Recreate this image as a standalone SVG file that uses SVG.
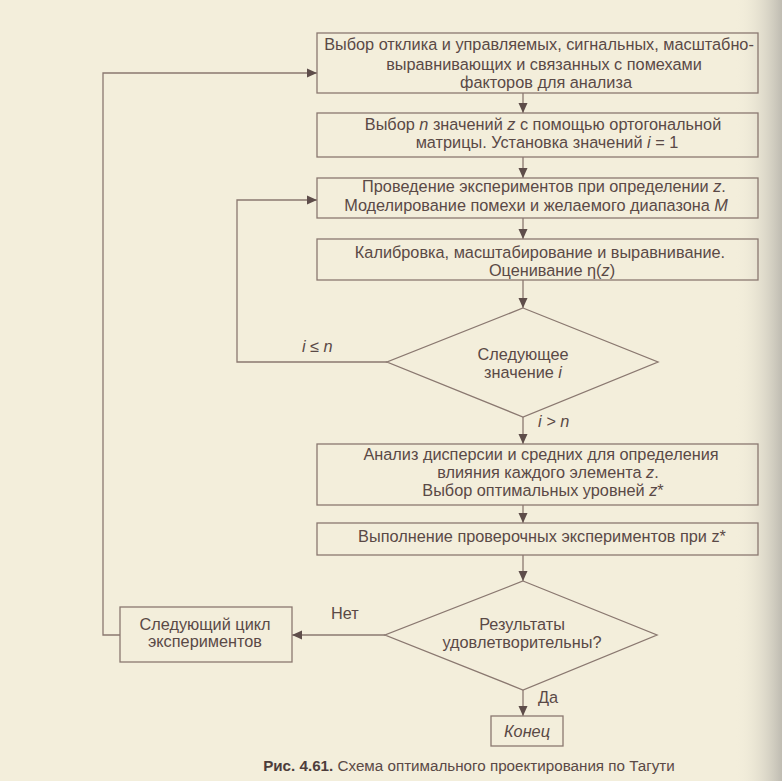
<svg xmlns="http://www.w3.org/2000/svg" width="782" height="781" viewBox="0 0 782 781">
<defs>
<style>
.bx{fill:none;stroke:#8a7870;stroke-width:1.3}
.ln{fill:none;stroke:#8a7870;stroke-width:1.3}
text{font-family:"Liberation Sans",Arial,sans-serif;font-size:16.3px;fill:#5a4946}
.m{text-anchor:middle}
.i{font-style:italic}
.cap{font-size:15.2px}
.b{font-weight:bold;fill:#4d3d3b}
</style>
<marker id="ah" viewBox="0 0 10 10" refX="10" refY="5" markerWidth="10" markerHeight="10" markerUnits="userSpaceOnUse" orient="auto">
<path d="M0,0.5 L10,5 L0,9.5 Z" fill="#5e4d4a"/>
</marker>
<linearGradient id="shade" x1="0" y1="0" x2="1" y2="0">
<stop offset="0" stop-color="#f3eedb" stop-opacity="0"/>
<stop offset="1" stop-color="#b9b6ad" stop-opacity="0.9"/>
</linearGradient>
</defs>
<rect x="0" y="0" width="782" height="781" fill="#f3eedb"/>
<rect x="735" y="0" width="47" height="781" fill="url(#shade)"/>

<g id="connectors">
<line class="ln" x1="523" y1="93" x2="523" y2="113" marker-end="url(#ah)"/>
<line class="ln" x1="523" y1="157" x2="523" y2="178" marker-end="url(#ah)"/>
<line class="ln" x1="523" y1="218" x2="523" y2="239" marker-end="url(#ah)"/>
<line class="ln" x1="523" y1="280" x2="523" y2="308" marker-end="url(#ah)"/>
<line class="ln" x1="523" y1="417" x2="523" y2="444" marker-end="url(#ah)"/>
<line class="ln" x1="523" y1="505" x2="523" y2="523" marker-end="url(#ah)"/>
<line class="ln" x1="523" y1="555" x2="523" y2="581" marker-end="url(#ah)"/>
<line class="ln" x1="523" y1="690" x2="523" y2="716" marker-end="url(#ah)"/>
<polyline class="ln" points="387,362 237,362 237,200 317,200" marker-end="url(#ah)"/>
<line class="ln" x1="385" y1="635" x2="292" y2="635" marker-end="url(#ah)"/>
<polyline class="ln" points="120,635 103,635 103,73 317,73" marker-end="url(#ah)"/>
<text class="i" x="302" y="352">i ≤ n</text>
<text class="i" x="538" y="427">i &gt; n</text>
<text x="331" y="619">Нет</text>
<text x="538" y="703">Да</text>
</g>

<g id="n1">
<rect class="bx" x="317" y="33" width="441" height="60"/>
<text class="m" x="539" y="50">Выбор отклика и управляемых, сигнальных, масштабно-</text>
<text class="m" x="544" y="70">выравнивающих и связанных с помехами</text>
<text class="m" x="546" y="88">факторов для анализа</text>
</g>
<g id="n2">
<rect class="bx" x="317" y="113" width="441" height="44"/>
<text class="m" x="543" y="130">Выбор <tspan class="i">n</tspan> значений <tspan class="i">z</tspan> с помощью ортогональной</text>
<text class="m" x="547" y="148">матрицы. Установка значений <tspan class="i">i</tspan> = 1</text>
</g>
<g id="n3">
<rect class="bx" x="317" y="178" width="441" height="40"/>
<text class="m" x="544" y="192">Проведение экспериментов при определении <tspan class="i">z</tspan>.</text>
<text class="m" x="536" y="211">Моделирование помехи и желаемого диапазона <tspan class="i">M</tspan></text>
</g>
<g id="n4">
<rect class="bx" x="317" y="239" width="441" height="41"/>
<text class="m" x="540" y="258">Калибровка, масштабирование и выравнивание.</text>
<text class="m" x="552" y="276">Оценивание η(<tspan class="i">z</tspan>)</text>
</g>
<g id="n5">
<polygon class="bx" points="523,308 658,362 523,417 387,362"/>
<text class="m" x="523" y="360">Следующее</text>
<text class="m" x="523" y="378">значение <tspan class="i">i</tspan></text>
</g>
<g id="n6">
<rect class="bx" x="317" y="444" width="441" height="61"/>
<text class="m" x="541" y="460">Анализ дисперсии и средних для определения</text>
<text class="m" x="548" y="478">влияния каждого элемента <tspan class="i">z</tspan>.</text>
<text class="m" x="543" y="496">Выбор оптимальных уровней <tspan class="i">z</tspan>*</text>
</g>
<g id="n7">
<rect class="bx" x="317" y="523" width="441" height="32"/>
<text class="m" x="542" y="542">Выполнение проверочных экспериментов при z*</text>
</g>
<g id="n8">
<polygon class="bx" points="523,581 657,635 523,690 385,635"/>
<text class="m" x="522" y="630">Результаты</text>
<text class="m" x="522" y="648">удовлетворительны?</text>
</g>
<g id="n9">
<rect class="bx" x="120" y="607" width="172" height="55"/>
<text class="m" x="205" y="630">Следующий цикл</text>
<text class="m" x="205" y="647">экспериментов</text>
</g>
<g id="n10">
<rect class="bx" x="491" y="716" width="72" height="30"/>
<text class="m i" x="527" y="737">Конец</text>
</g>
<g id="caption">
<text class="cap m" x="469" y="771"><tspan class="b">Рис. 4.61.</tspan> Схема оптимального проектирования по Тагути</text>
</g>
</svg>
